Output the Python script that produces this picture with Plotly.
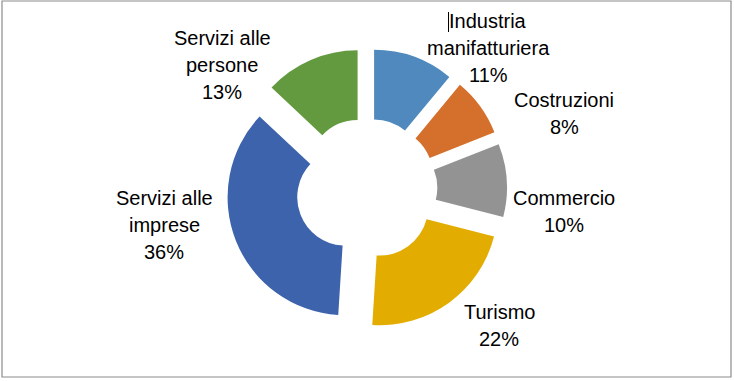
import plotly.graph_objects as go

# ---- data ----
categories = ["Industria<br>manifatturiera", "Costruzioni", "Commercio", "Turismo",
              "Servizi alle<br>imprese", "Servizi alle<br>persone"]
values = [11, 8, 10, 22, 36, 13]
colors = ["#4F89BD", "#D4702C", "#939393", "#E2AC00", "#3C63AC", "#639A40"]

# ---- layout helpers (label anchor: center x px, first-line y px) ----
W, H = 734, 381
label_pos = [(488, 21), (564, 100), (564, 198), (499, 312), (164, 198), (222, 38)]
line_step = 27

cx, cy, ext = 366.5, 189, 140.5

fig = go.Figure(go.Pie(
    labels=[c.replace("<br>", " ") for c in categories],
    values=values,
    marker=dict(colors=colors, line=dict(width=0)),
    hole=0.41,
    pull=[0.19] * len(values),
    sort=False,
    direction="clockwise",
    rotation=0,
    textinfo="none",
    hoverinfo="none",
    showlegend=False,
    domain=dict(x=[(cx - ext) / W, (cx + ext) / W],
                y=[1 - (cy + ext) / H, 1 - (cy - ext) / H]),
))

annotations = []
for cat, val, (px, py) in zip(categories, values, label_pos):
    lines = cat.split("<br>") + [f"{val}%"]
    for i, ln in enumerate(lines):
        annotations.append(dict(
            x=px / W, y=1 - (py + i * line_step) / H, xref="paper", yref="paper",
            text=ln, showarrow=False, xanchor="center", yanchor="middle",
            font=dict(family="Liberation Sans", size=20, color="#000000"),
        ))

shapes = [
    dict(type="rect", xref="paper", yref="paper",
         x0=2 / W, x1=731 / W, y0=1 - 377 / H, y1=1 - 1 / H,
         line=dict(color="#8C8C8C", width=1.2)),
    dict(type="line", xref="paper", yref="paper",
         x0=448.5 / W, x1=448.5 / W, y0=1 - 12 / H, y1=1 - 32 / H,
         line=dict(color="#000000", width=1)),
]

fig.update_layout(
    width=W, height=H,
    margin=dict(l=0, r=0, t=0, b=0),
    paper_bgcolor="#FFFFFF", plot_bgcolor="#FFFFFF",
    annotations=annotations, shapes=shapes,
)

fig.write_html("out.html",
               config={"displayModeBar": False},
               post_script="document.body.style.margin='0';document.body.style.overflow='hidden';")
